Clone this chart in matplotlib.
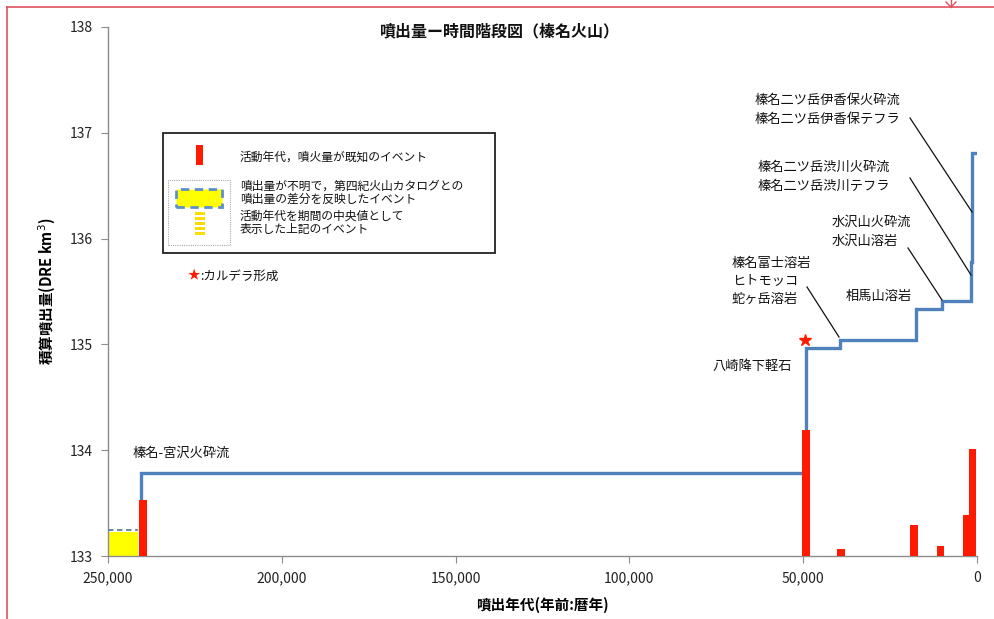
import matplotlib
matplotlib.use("Agg")
import matplotlib.pyplot as plt
from matplotlib.patches import Rectangle
from matplotlib.ticker import FuncFormatter
import numpy as np

plt.rcParams['font.family'] = ['Noto Sans CJK JP', 'DejaVu Sans']

# ---- data ----
step_years = [240500, 240500, 49200, 39400, 17600, 10200, 1700, 1500, 0]
step_cum = [133.23, 133.78, 134.97, 135.04, 135.33, 135.41, 135.78, 136.81, 136.81]

bar_years = [239900, 49200, 39100, 18100, 10400, 3000, 1300]
bar_tops = [133.53, 134.19, 133.07, 133.29, 133.09, 133.39, 134.01]

unknown_start = 250000
unknown_end = 241400
unknown_top = 133.23

caldera_year = 49500
caldera_level = 135.04

x_ticks = [250000, 200000, 150000, 100000, 50000, 0]
y_ticks = [133, 134, 135, 136, 137, 138]

title = '噴出量ー時間階段図（榛名火山）'
xlabel = '噴出年代(年前:暦年)'
ylabel = '積算噴出量(DRE km$^3$)'

W, H = 995, 619
fig = plt.figure(figsize=(W / 100, H / 100), dpi=100)
ax = fig.add_axes([108 / W, 1 - 556 / H, (977 - 108) / W, (556 - 27) / H])

def fx(px):
    return px / W

def fy(py):
    return 1 - py / H

# unknown volume event (yellow)
ax.add_patch(Rectangle((unknown_end, 133), unknown_start - unknown_end, unknown_top - 133,
                       facecolor='#ffff00', edgecolor='none', zorder=2))
ax.plot([unknown_start, unknown_end], [unknown_top + 0.015] * 2, color='#5a7ea8',
        lw=1.3, ls=(0, (3, 2)), zorder=3)

# step line
ax.step(step_years, step_cum, where='post', color='#4f81bd', lw=2.4, zorder=3,
        solid_joinstyle='miter')

# red bars
ax.bar(bar_years, np.array(bar_tops) - 133, bottom=133, width=2100,
       color='#ff1a00', zorder=4)

# caldera star
ax.plot([caldera_year], [caldera_level], marker='*', color='#ff1a00', ms=9, zorder=5,
        clip_on=False)

ax.set_xlim(250000, 0)
ax.set_ylim(133, 138)
ax.set_xticks(x_ticks)
ax.set_yticks(y_ticks)
ax.xaxis.set_major_formatter(FuncFormatter(lambda v, p: f'{int(v):,}'))
for s in ['top', 'right']:
    ax.spines[s].set_visible(False)
for s in ['left', 'bottom']:
    ax.spines[s].set_color('#8c8c8c')
    ax.spines[s].set_linewidth(1.0)
ax.tick_params(axis='both', direction='out', length=5, color='#8c8c8c',
               labelsize=10, labelcolor='#222222', pad=6)

fig.text(fx(500), fy(31), title, fontsize=11.5, fontweight='bold', ha='center', va='center',
         color='#111111')
ax.set_xlabel(xlabel, fontsize=10.5, fontweight='bold', labelpad=8)
ax.set_ylabel(ylabel, fontsize=10.5, fontweight='bold', labelpad=8)

# annotation texts (figure pixel coords)
tkw = dict(fontsize=9.5, color='#111111', va='center', ha='left')
labels = [
    (755, 100, '榛名二ツ岳伊香保火砕流'),
    (755, 119, '榛名二ツ岳伊香保テフラ'),
    (758, 167, '榛名二ツ岳渋川火砕流'),
    (758, 186, '榛名二ツ岳渋川テフラ'),
    (832, 222, '水沢山火砕流'),
    (832, 241, '水沢山溶岩'),
    (732, 263, '榛名富士溶岩'),
    (732, 281, 'ヒトモッコ'),
    (732, 299, '蛇ヶ岳溶岩'),
    (846, 296, '相馬山溶岩'),
    (712, 366, '八崎降下軽石'),
    (133, 453, '榛名-宮沢火砕流'),
]
for px, py, t in labels:
    fig.text(fx(px), fy(py), t, **tkw)

# leader lines
leaders = [((910, 118), (972, 212)),
           ((910, 178), (971, 275)),
           ((908, 248), (942, 300)),
           ((807, 287), (839, 337))]
for (x0, y0), (x1, y1) in leaders:
    fig.add_artist(plt.Line2D([fx(x0), fx(x1)], [fy(y0), fy(y1)], color='#111111', lw=0.9))

# legend box
fig.add_artist(Rectangle((fx(163), fy(253)), fx(495 - 163), (253 - 133) / H,
                         facecolor='white', edgecolor='#222222', lw=1.3))
fig.add_artist(Rectangle((fx(196), fy(165)), fx(7), 20 / H, facecolor='#ff1a00', edgecolor='none'))
fig.add_artist(Rectangle((fx(168), fy(245)), fx(62), 65 / H, facecolor='none',
                         edgecolor='#aaaaaa', lw=0.8, ls=(0, (1, 1))))
fig.add_artist(Rectangle((fx(176), fy(207)), fx(46), 18 / H, facecolor='#ffff00',
                         edgecolor='#5b8fd0', lw=2.0, ls=(0, (3, 2))))
for i in range(5):
    yy = 212 + i * 5
    fig.add_artist(Rectangle((fx(195), fy(yy + 3)), fx(10), 3 / H, facecolor='#ffdd00',
                             edgecolor='none'))
lkw = dict(fontsize=8.5, color='#111111', va='center', ha='left')
fig.text(fx(240), fy(157), '活動年代，噴火量が既知のイベント', **lkw)
fig.text(fx(240), fy(186), '噴出量が不明で，第四紀火山カタログとの', **lkw)
fig.text(fx(240), fy(199), '噴出量の差分を反映したイベント', **lkw)
fig.text(fx(240), fy(216), '活動年代を期間の中央値として', **lkw)
fig.text(fx(240), fy(230), '表示した上記のイベント', **lkw)
fig.text(fx(188), fy(276), '★', fontsize=9, color='#ff1a00', va='center', ha='left')
fig.text(fx(200), fy(276), ':カルデラ形成', fontsize=9, color='#111111', va='center', ha='left')

# outer red frame
fig.add_artist(plt.Line2D([fx(7), fx(7)], [0, fy(7)], color='#e0505f', lw=1.2))
fig.add_artist(plt.Line2D([fx(7), 1], [fy(7), fy(7)], color='#e0505f', lw=1.2))
fig.add_artist(plt.Line2D([fx(951), fx(951)], [fy(7), 1], color='#e0505f', lw=1.0))
fig.add_artist(plt.Line2D([fx(946), fx(951), fx(956)], [fy(2), fy(7), fy(2)], color='#e0505f', lw=1.0))

fig.savefig('out.png', dpi=100)
